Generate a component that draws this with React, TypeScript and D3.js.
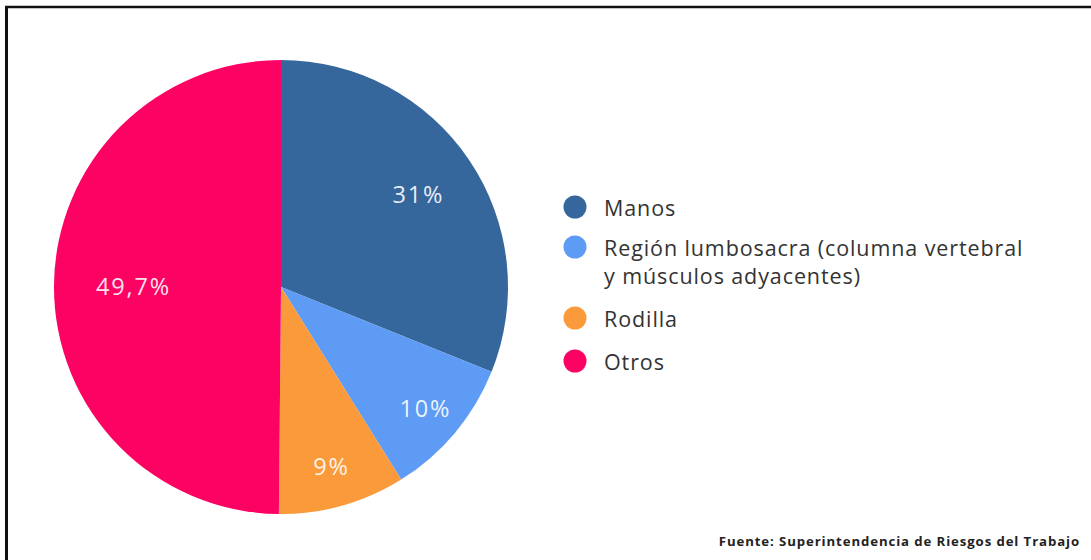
import React from "react";
import * as d3 from "d3";

const categories = ["Manos", "Región lumbosacra (columna vertebral|y músculos adyacentes)", "Rodilla", "Otros"];
const values = [31, 10, 9, 49.7];
const valueLabels = ["31%", "10%", "9%", "49,7%"];
const colors = ["#35669c", "#5e9bf4", "#fa9a3a", "#fc0262"];

const W = 1091;
const H = 560;
const cx = 281;
const cy = 287;
const R = 227;
const labelRadiusFrac = [0.73, 0.83, 0.82, 0.65];
const FONT = "'Open Sans', Lato, sans-serif";

export default function App() {
  const pie = d3.pie<number>().sort(null).value((d) => d).startAngle(0).endAngle(2 * Math.PI);
  const arcs = pie(values);
  const arcGen = d3.arc<d3.PieArcDatum<number>>().innerRadius(0).outerRadius(R);

  const legendX = 575;
  const legendYs = [207, 247, 318, 361];

  return (
    <svg width={W} height={H} style={{ position: "absolute", left: 0, top: 0, background: "#fff" }}>
      <rect x={0} y={0} width={W} height={H} fill="#fff" />
      <line x1={6.5} y1={6} x2={6.5} y2={H} stroke="#111" strokeWidth={3} />
      <line x1={5} y1={7} x2={W} y2={7} stroke="#111" strokeWidth={2.5} />
      <g transform={`translate(${cx},${cy})`}>
        {arcs.map((a, i) => (
          <path key={i} d={arcGen(a) || ""} fill={colors[i]} />
        ))}
        {arcs.map((a, i) => {
          const mid = (a.startAngle + a.endAngle) / 2;
          const r = R * labelRadiusFrac[i];
          const x = r * Math.sin(mid);
          const y = -r * Math.cos(mid);
          return (
            <text key={"l" + i} x={x} y={y} textAnchor="middle" dominantBaseline="central"
              fill="#fff" fillOpacity={0.9} fontFamily={FONT} fontSize={23.5} letterSpacing={1.8}>
              {valueLabels[i]}
            </text>
          );
        })}
      </g>
      {categories.map((c, i) => {
        const lines = c.split("|");
        return (
          <g key={"lg" + i}>
            <circle cx={legendX} cy={legendYs[i]} r={11.5} fill={colors[i]} />
            {lines.map((ln, j) => (
              <text key={j} x={604} y={legendYs[i] + j * 28} dominantBaseline="central"
                fill="#333" fontFamily={FONT} fontSize={21.5} letterSpacing={0.9}>
                {ln}
              </text>
            ))}
          </g>
        );
      })}
      <text x={1080} y={541} textAnchor="end" dominantBaseline="central" fill="#222"
        fontFamily={FONT} fontWeight="bold" fontSize={13.2} letterSpacing={0.9}>
        Fuente: Superintendencia de Riesgos del Trabajo
      </text>
    </svg>
  );
}
